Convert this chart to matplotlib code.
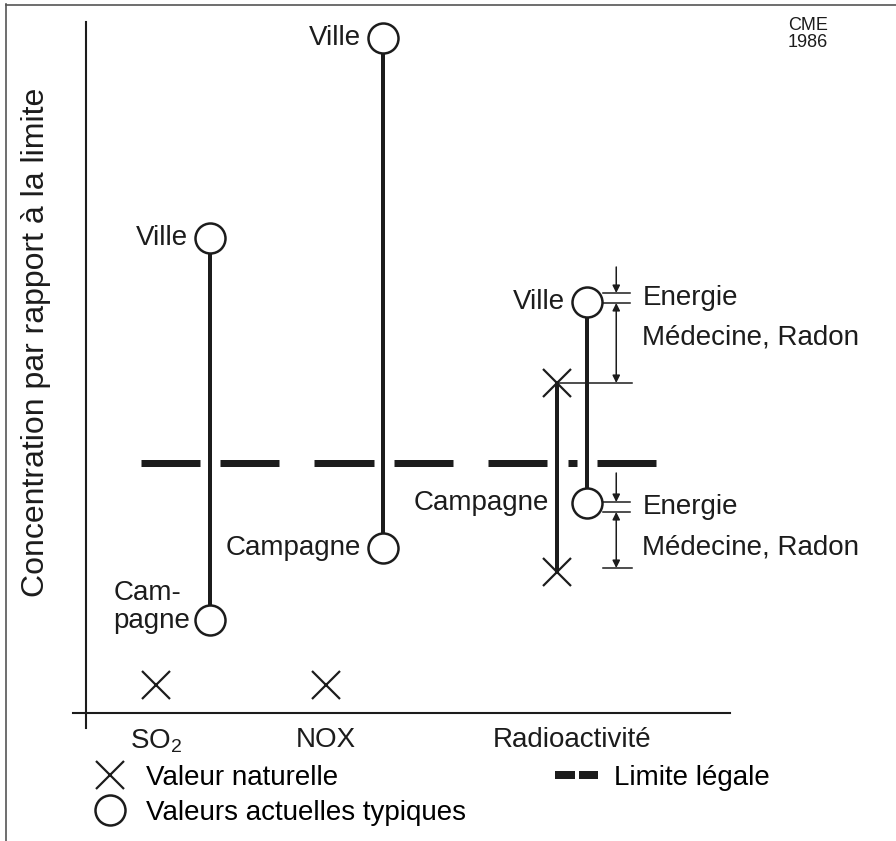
import matplotlib
matplotlib.use('Agg')
import matplotlib.pyplot as plt
from matplotlib.lines import Line2D

plt.rcParams['font.family'] = ['Liberation Sans', 'DejaVu Sans']
plt.rcParams['mathtext.fontset'] = 'custom'
plt.rcParams['mathtext.rm'] = 'Liberation Sans'
plt.rcParams['lines.scale_dashes'] = False

# concentration relative to the legal limit (limit = 1)
categories = ['SO$_2$', 'NOX', 'Radioactivité']
cat_pos = [1.0, 2.0, 3.447]
ville = [1.90, 2.70, 1.644]
campagne = [0.372, 0.66, 0.84]
naturel = [0.112, 0.112]
naturel_radio = [0.564, 1.32]
limite = 1.0
energie_ville = [1.64, 1.68]
energie_campagne = [0.804, 0.844]
medecine_ville = [1.32, 1.64]
medecine_campagne = [0.58, 0.804]

PT = 0.72  # points per pixel at 100 dpi
INK = '#1c1c1c'

fig = plt.figure(figsize=(8.96, 8.41), dpi=100)
ax = fig.add_axes([73 / 896, 113 / 841, 657 / 896, 706 / 841])
ax.set_xlim(0.512, 4.376)
ax.set_ylim(-0.06, 2.764)
ax.patch.set_alpha(0)

for s in ['top', 'right']:
    ax.spines[s].set_visible(False)
ax.spines['left'].set_position(('data', 0.588))
ax.spines['bottom'].set_position(('data', 0))
for s in ['left', 'bottom']:
    ax.spines[s].set_linewidth(1.5)
    ax.spines[s].set_color(INK)
ax.set_yticks([])
ax.set_xticks(cat_pos, categories)
ax.tick_params(axis='x', length=0, pad=10, labelsize=20, labelcolor=INK)

# x positions of the marks
dx_ville = [0.32, 0.335, 0.09]
dx_nat = [0.0, 0.0, -0.09]
x_ville = [c + d for c, d in zip(cat_pos, dx_ville)]
x_nat = [c + d for c, d in zip(cat_pos, dx_nat)]

circle = dict(ls='none', marker='o', ms=30 * PT, mfc='white', mec=INK, mew=2.5 * PT, zorder=4)
cross = dict(ls='none', marker='x', ms=28 * PT, mec=INK, mew=2.2 * PT, zorder=4)

# ranges campagne -> ville
ax.vlines(x_ville, campagne, ville, colors=INK, lw=4 * PT, zorder=2)
ax.plot(x_ville, ville, **circle)
ax.plot(x_ville, campagne, **circle)

# natural values
ax.plot(x_nat[:2], naturel, **cross)
ax.vlines(x_nat[2], naturel_radio[0], naturel_radio[1], colors=INK, lw=4 * PT, zorder=2)
ax.plot([x_nat[2]] * 2, naturel_radio, **cross)

# legal limit
lim_dash = [59, 20, 59, 35, 60, 20, 59, 35, 59, 21, 9, 20, 59, 200]
ax.plot([0.912, 3.941], [limite, limite], color=INK, lw=7 * PT,
        dashes=[d * PT for d in lim_dash], zorder=3)

# point labels
lab = dict(textcoords='offset points', ha='right', va='center', fontsize=20, color=INK)
for i in range(3):
    ax.annotate('Ville', (x_ville[i], ville[i]), xytext=(-22 * PT, 0), **lab)
ax.annotate('Cam-\npagne', (x_ville[0], campagne[0]), xytext=(-20 * PT, 13 * PT),
            multialignment='left', linespacing=1.1, **lab)
ax.annotate('Campagne', (x_ville[1], campagne[1]), xytext=(-22 * PT, 0), **lab)
ax.annotate('Campagne', (x_ville[2], campagne[2]), xytext=(-38 * PT, 0), **lab)

# radioactivity breakdown
rx = x_ville[2]
arr_x = rx + 0.17
tick_a, tick_b = rx + 0.094, rx + 0.253
thin = dict(color=INK, lw=1.1)
arrow = dict(arrowstyle='-|>', color=INK, lw=1.1, shrinkA=0, shrinkB=0, mutation_scale=11)
arrow2 = dict(arrowstyle='<|-|>', color=INK, lw=1.1, shrinkA=0, shrinkB=0, mutation_scale=11)
for en, med, top_len in [(energie_ville, medecine_ville, 26), (energie_campagne, medecine_campagne, 29)]:
    for v in en:
        ax.plot([tick_a, tick_b], [v, v], **thin)
    ax.annotate('', (arr_x, en[1]), xytext=(0, top_len * PT), textcoords='offset points',
                arrowprops=arrow)
    ax.annotate('', (arr_x, med[0]), xytext=(arr_x, med[1]), arrowprops=arrow2)
    mid = (en[0] + en[1]) / 2
    ax.annotate('Energie', (rx, mid), xytext=(55 * PT, 0), textcoords='offset points',
                ha='left', va='center', fontsize=20, color=INK)
    ax.annotate('Médecine, Radon', (rx, mid), xytext=(55 * PT, -40 * PT), textcoords='offset points',
                ha='left', va='center', fontsize=20, color=INK)
ax.plot([x_nat[2], rx + 0.265], [medecine_ville[0]] * 2, **thin)
ax.plot([rx + 0.09, rx + 0.265], [medecine_campagne[0]] * 2, **thin)

# y label, source
fig.text(36 / 896, 1 - 342 / 841, 'Concentration par rapport à la limite', rotation=90,
         ha='center', va='center', fontsize=23, color=INK)
fig.text(808 / 896, 1 - 34 / 841, 'CME\n1986', ha='center', va='center', fontsize=13,
         linespacing=1.0, color=INK)

# legend
h_cross = Line2D([], [], **cross)
h_circle = Line2D([], [], **circle)
h_lim = Line2D([], [], color=INK, lw=8 * PT, dashes=(20 * PT, 4 * PT))
fig.legend([h_cross, h_circle, h_lim],
           ['Valeur naturelle', 'Valeurs actuelles typiques', 'Limite légale'],
           ncol=2, loc='upper left', bbox_to_anchor=(88 / 896, 1 - 765 / 841),
           frameon=False, fontsize=20, handlelength=1.55, handletextpad=0.55,
           columnspacing=3.2, labelspacing=0.32, borderpad=0, borderaxespad=0)

# scan frame
fig.add_artist(Line2D([6 / 896, 6 / 896], [0, 1 - 4 / 841], color='#555555', lw=1.2))
fig.add_artist(Line2D([6 / 896, 1], [1 - 5 / 841, 1 - 5 / 841], color='#555555', lw=1.2))

fig.savefig('out.png', dpi=100)
